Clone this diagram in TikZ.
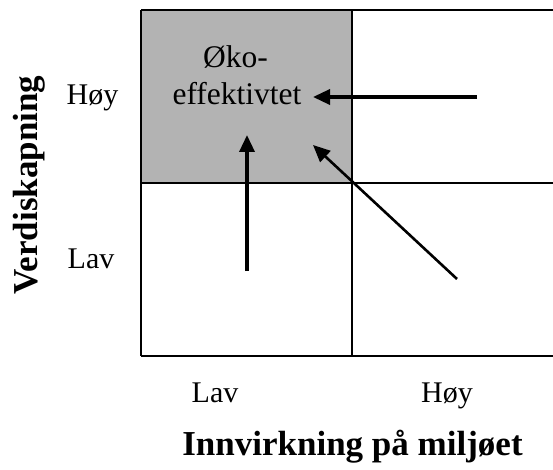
\documentclass[tikz,border=0pt]{standalone}
\usepackage{fontspec}
\setmainfont{Liberation Serif}
\usetikzlibrary{arrows.meta}
\definecolor{quadgray}{RGB}{179,179,179}
\tikzset{
  lbl/.style={font=\fontsize{30}{34}\selectfont, inner sep=0pt, anchor=base},
  quadlbl/.style={font=\fontsize{31.5}{36}\selectfont, inner sep=0pt, anchor=base},
  axislbl/.style={font=\fontsize{35}{40}\selectfont\bfseries, inner sep=0pt, anchor=base},
  gridline/.style={line width=1.2pt, black},
  bigarrow/.style={line width=3.4pt, -{Triangle[length=17pt,width=15pt]}},
  diagarrow/.style={line width=2.6pt, -{Triangle[length=17pt,width=15pt]}}
}
\begin{document}
\begin{tikzpicture}[x=1pt,y=-1pt]
\useasboundingbox (0,0) rectangle (553,470);
\fill[white] (0,0) rectangle (553,470);
% grey quadrant
\fill[quadgray] (141,10) rectangle (352,183);
% grid
\draw[gridline] (141,10) -- (560,10);
\draw[gridline] (141,356) -- (560,356);
\draw[gridline] (141,10) -- (141,356);
\draw[gridline] (352,10) -- (352,356);
\draw[gridline] (141,183) -- (560,183);
% texts
\node[quadlbl] (oko) at (235.5,68) {Øko-};
\node[quadlbl] (eff) at (237,105) {effektivtet};
\node[lbl] (hoyL) at (92.5,105) {Høy};
\node[lbl] (lavL) at (91,268) {Lav};
\node[lbl] (lavB) at (215,402) {Lav};
\node[lbl] (hoyB) at (447,402) {Høy};
\node[axislbl] (xax) at (352.5,455) {Innvirkning på miljøet};
\node[axislbl, rotate=90] (yax) at (37,185) {Verdiskapning};
% arrows
\coordinate (hs) at (477,97);
\coordinate (he) at (313,97);
\coordinate (vs) at (247,271);
\coordinate (ve) at (247,135);
\coordinate (ds) at (457,279);
\coordinate (de) at (313,145);
\draw[bigarrow] (hs) -- (he);
\draw[bigarrow] (vs) -- (ve);
\draw[diagarrow] (ds) -- (de);
\end{tikzpicture}
\end{document}
